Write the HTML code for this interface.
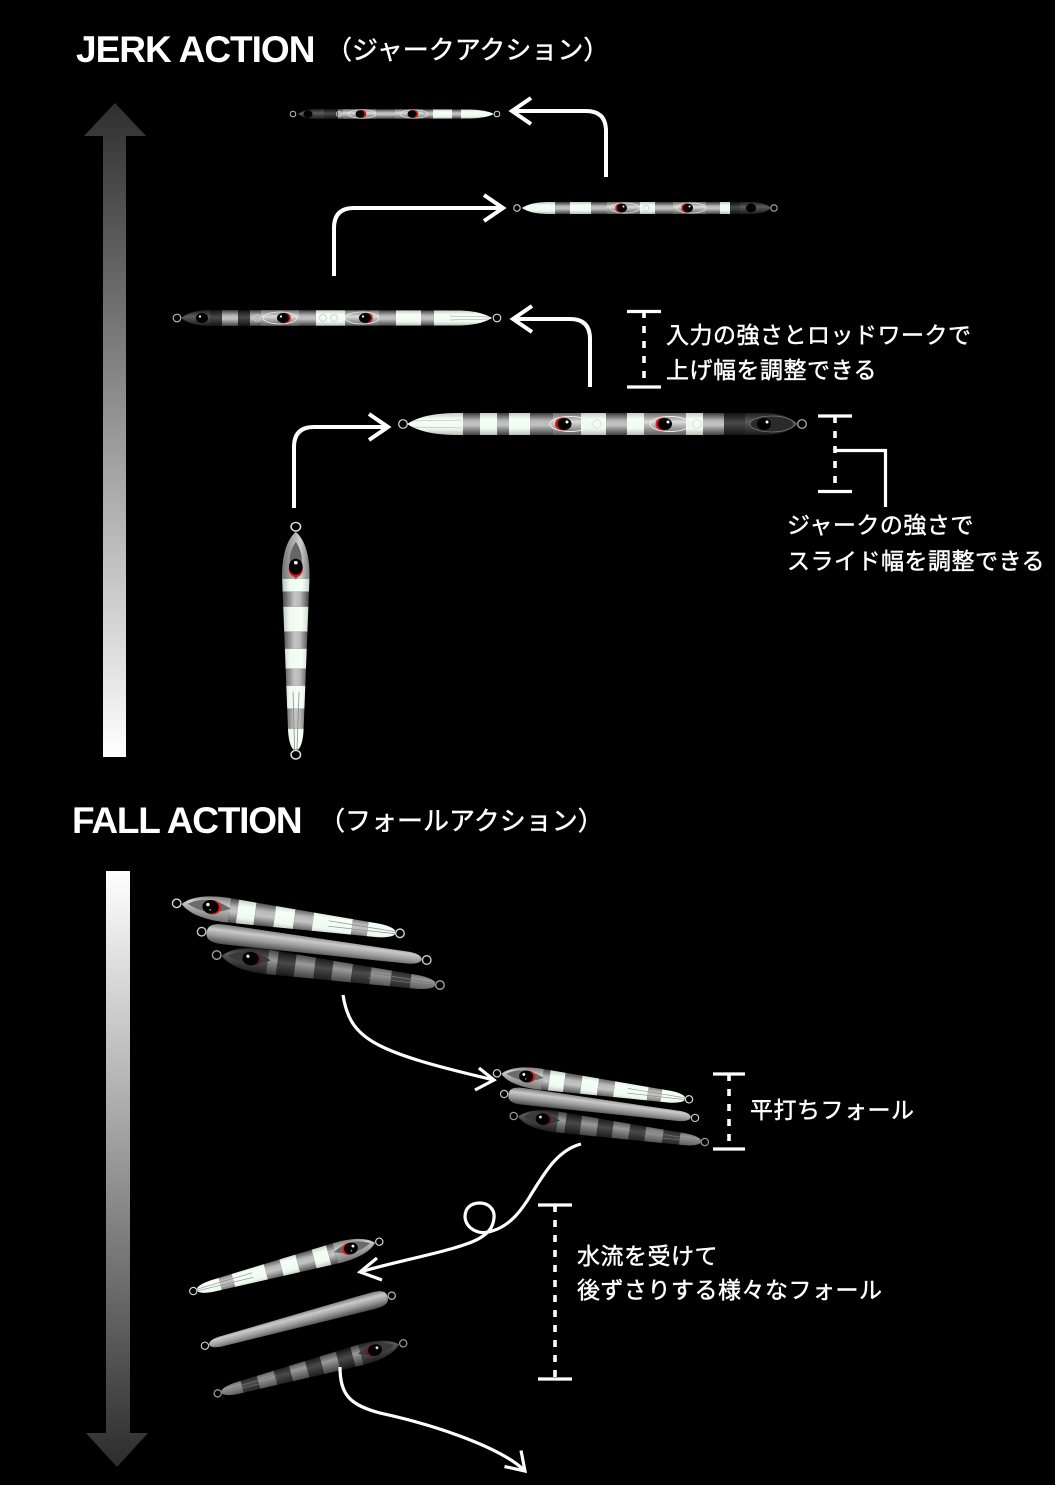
<!DOCTYPE html>
<html><head><meta charset="utf-8">
<style>html,body{margin:0;padding:0;background:#000}svg{display:block}</style>
</head><body>
<svg xmlns="http://www.w3.org/2000/svg" width="1055" height="1485" viewBox="0 0 1055 1485">
<defs>
<linearGradient id="gl" x1="0" y1="0" x2="0" y2="1"><stop offset="0" stop-color="#c2ccc3"/><stop offset=".28" stop-color="#f5fff6"/><stop offset=".72" stop-color="#eefaf0"/><stop offset="1" stop-color="#b4bdb5"/></linearGradient>
<linearGradient id="gy" x1="0" y1="0" x2="0" y2="1"><stop offset="0" stop-color="#3a3a3a"/><stop offset=".35" stop-color="#b8b8b8"/><stop offset=".55" stop-color="#c4c4c4"/><stop offset="1" stop-color="#404040"/></linearGradient>
<linearGradient id="gd" x1="0" y1="0" x2="0" y2="1"><stop offset="0" stop-color="#111"/><stop offset=".45" stop-color="#4a4a4a"/><stop offset="1" stop-color="#141414"/></linearGradient>
<linearGradient id="gm" x1="0" y1="0" x2="0" y2="1"><stop offset="0" stop-color="#3e3e3e"/><stop offset=".4" stop-color="#9a9a9a"/><stop offset="1" stop-color="#363636"/></linearGradient>
<linearGradient id="gh" x1="0" y1="0" x2="0" y2="1"><stop offset="0" stop-color="#7a7a7a"/><stop offset=".35" stop-color="#d0d0d0"/><stop offset="1" stop-color="#707070"/></linearGradient>
<linearGradient id="ghd" x1="0" y1="0" x2="0" y2="1"><stop offset="0" stop-color="#1e1e1e"/><stop offset=".4" stop-color="#5c5c5c"/><stop offset="1" stop-color="#1a1a1a"/></linearGradient>
<linearGradient id="ge" x1="0" y1="0" x2="0" y2="1"><stop offset="0" stop-color="#6a6a6a"/><stop offset=".4" stop-color="#dcdcdc"/><stop offset="1" stop-color="#5a5a5a"/></linearGradient>
<linearGradient id="gs" x1="0" y1="0" x2="0" y2="1"><stop offset="0" stop-color="#777"/><stop offset=".3" stop-color="#cacaca"/><stop offset=".6" stop-color="#9c9c9c"/><stop offset="1" stop-color="#4a4a4a"/></linearGradient>
<linearGradient id="barJ" gradientUnits="userSpaceOnUse" x1="0" y1="103" x2="0" y2="757"><stop offset="0" stop-color="#2f2f2f"/><stop offset="1" stop-color="#ffffff"/></linearGradient>
<linearGradient id="barF" gradientUnits="userSpaceOnUse" x1="0" y1="871" x2="0" y2="1467"><stop offset="0" stop-color="#ffffff"/><stop offset="1" stop-color="#2c2c2c"/></linearGradient>

<clipPath id="cF"><path d="M0,0 C8,-8 22,-12.5 45,-12.5 L200,-7 Q214,-6 218,-2 L218,2 Q214,6 200,7 L45,12.5 C22,12.5 8,8 0,0 Z"/></clipPath>
<clipPath id="cS"><path d="M0,0 C0,-7 5,-10 18,-10 L205,-6 Q217,-5 218,0 Q217,5 205,6 L18,10 C5,10 0,7 0,0 Z"/></clipPath>
<clipPath id="cJ1"><path d="M298,114 C303,110.5 309,109 318,109 L470,109.5 C484,110 490,112 494,114 C490,116 484,118 470,118.5 L318,119 C309,119 303,117.5 298,114 Z"/></clipPath>
<clipPath id="cJ2"><path d="M522,208 C528,204 536,202 550,202 L750,202 C762,202 768,205 771,208 C768,211 762,214 750,214 L550,214 C536,214 528,212 522,208 Z"/></clipPath>
<clipPath id="cJ3"><path d="M181,318 C188,313 196,310 212,310 L460,310.5 C478,311 487,315 492,318 C487,321 478,325 460,325.5 L212,326 C196,326 188,323 181,318 Z"/></clipPath>
<clipPath id="cJ4"><path d="M407,424 C418,417 432,413 460,413 L765,413 C782,413 792,419 798,424 C792,429 782,435 765,435 L460,435 C432,435 418,431 407,424 Z"/></clipPath>

<g id="Lg">
<circle cx="-5" cy="0" r="4.3" fill="none" stroke="#d8d8d8" stroke-width="1.4"/>
<circle cx="223" cy="0" r="4.3" fill="none" stroke="#d8d8d8" stroke-width="1.4"/>
<g clip-path="url(#cF)">
<rect x="0" y="-13" width="49" height="26" fill="url(#gh)"/>
<rect x="49" y="-13" width="8" height="26" fill="url(#gy)"/>
<rect x="57" y="-13" width="18" height="26" fill="url(#gl)"/>
<rect x="75" y="-13" width="20" height="26" fill="url(#gy)"/>
<rect x="95" y="-13" width="20" height="26" fill="url(#gl)"/>
<rect x="115" y="-13" width="19" height="26" fill="url(#gy)"/>
<rect x="134" y="-13" width="40" height="26" fill="url(#gl)"/>
<rect x="174" y="-13" width="16" height="26" fill="url(#gy)"/>
<rect x="190" y="-13" width="30" height="26" fill="url(#gl)"/>
<path d="M150,-3 L220,-1 M150,2.5 L220,1" stroke="#8a8a8a" stroke-width=".7" fill="none"/>
</g>
<path d="M6,-1 Q26,-14 50,-2 Q28,10 6,-1 Z" fill="#6b6b6b"/>
<ellipse cx="31.5" cy="-1" rx="8.8" ry="7.2" fill="#e01a1a"/>
<ellipse cx="29.5" cy="-1" rx="8.3" ry="6.9" fill="#000"/>
<circle cx="26.5" cy="-3" r="1.7" fill="#fff"/>
<circle cx="29.5" cy="2" r=".7" fill="#fff"/>
</g>

<g id="Lv">
<circle cx="-5" cy="0" r="4.3" fill="none" stroke="#e0e0e0" stroke-width="1.4"/>
<circle cx="223" cy="0" r="4.3" fill="none" stroke="#e0e0e0" stroke-width="1.4"/>
<g clip-path="url(#cF)">
<rect x="0" y="-13" width="47" height="26" fill="url(#gh)"/>
<rect x="47" y="-13" width="13" height="26" fill="url(#gl)"/>
<rect x="60" y="-13" width="15" height="26" fill="url(#gy)"/>
<rect x="75" y="-13" width="25" height="26" fill="url(#gl)"/>
<rect x="100" y="-13" width="17" height="26" fill="url(#gy)"/>
<rect x="117" y="-13" width="20" height="26" fill="url(#gl)"/>
<rect x="137" y="-13" width="17" height="26" fill="url(#gy)"/>
<rect x="154" y="-13" width="23" height="26" fill="url(#gl)"/>
<rect x="177" y="-13" width="20" height="26" fill="url(#gy)"/>
<rect x="197" y="-13" width="23" height="26" fill="url(#gl)"/>
<path d="M160,-3 L220,-1 M160,2.5 L220,1" stroke="#8a8a8a" stroke-width=".7" fill="none"/>
</g>
<path d="M10,0 Q28,-11 48,0 Q28,11 10,0 Z" fill="#666"/>
<ellipse cx="37" cy="0" rx="8.5" ry="6.4" fill="#e01a1a"/>
<ellipse cx="35" cy="0" rx="8" ry="6.2" fill="#000"/>
<circle cx="31" cy="0" r="1.7" fill="#fff"/>
</g>

<g id="Ls">
<circle cx="-5" cy="0" r="4.3" fill="none" stroke="#c8c8c8" stroke-width="1.4"/>
<circle cx="223" cy="0" r="4.3" fill="none" stroke="#c8c8c8" stroke-width="1.4"/>
<g clip-path="url(#cS)">
<rect x="0" y="-10" width="220" height="20" fill="url(#gs)"/>
</g>
</g>

<g id="Ld">
<circle cx="-5" cy="0" r="4.3" fill="none" stroke="#a0a0a0" stroke-width="1.4"/>
<circle cx="223" cy="0" r="4.3" fill="none" stroke="#a0a0a0" stroke-width="1.4"/>
<g clip-path="url(#cF)">
<rect x="0" y="-13" width="47" height="26" fill="url(#ghd)"/>
<rect x="47" y="-13" width="10" height="26" fill="url(#gm)"/>
<rect x="57" y="-13" width="18" height="26" fill="url(#gd)"/>
<rect x="75" y="-13" width="20" height="26" fill="url(#gm)"/>
<rect x="95" y="-13" width="18" height="26" fill="url(#gd)"/>
<rect x="113" y="-13" width="20" height="26" fill="url(#gm)"/>
<rect x="133" y="-13" width="19" height="26" fill="url(#gd)"/>
<rect x="152" y="-13" width="21" height="26" fill="url(#gm)"/>
<rect x="173" y="-13" width="20" height="26" fill="url(#gd)"/>
<rect x="193" y="-13" width="27" height="26" fill="url(#gm)"/>
<path d="M150,-3 L220,-1 M150,2.5 L220,1" stroke="#777" stroke-width=".7" fill="none"/>
</g>
<path d="M6,-1 Q26,-14 50,-2 Q28,10 6,-1 Z" fill="#3a3a3a"/>
<ellipse cx="31.5" cy="-1" rx="8.8" ry="7.2" fill="#6a1c1c"/>
<ellipse cx="29.5" cy="-1" rx="8.3" ry="6.9" fill="#000"/>
<circle cx="26.5" cy="-3" r="1.7" fill="#ddd"/>
</g>
</defs>

<rect width="1055" height="1485" fill="#000"/>

<!-- Titles -->
<text x="76" y="62" font-family="Liberation Sans, sans-serif" font-weight="bold" font-size="37" letter-spacing="-1" fill="#fff">JERK ACTION</text>
<text x="326" y="59" font-family="Liberation Sans, Noto Sans CJK JP, sans-serif" font-size="26" fill="#fff" stroke="#fff" stroke-width="0.45">（ジャークアクション）</text>
<text x="72" y="833" font-family="Liberation Sans, sans-serif" font-weight="bold" font-size="37" letter-spacing="-1.2" fill="#fff">FALL ACTION</text>
<text x="319" y="830" font-family="Liberation Sans, Noto Sans CJK JP, sans-serif" font-size="26" fill="#fff" stroke="#fff" stroke-width="0.45">（フォールアクション）</text>

<!-- gradient bars -->
<path d="M115,103 L146,136 L126,136 L126,757 L103,757 L103,136 L84,136 Z" fill="url(#barJ)"/>
<path d="M106,871 L130,871 L130,1433 L148,1433 L117,1467 L86,1433 L106,1433 Z" fill="url(#barF)"/>

<!-- Jerk lure 1 -->
<circle cx="293" cy="114" r="2.8" fill="none" stroke="#bbb" stroke-width="1"/>
<circle cx="497" cy="114" r="2.8" fill="none" stroke="#ddd" stroke-width="1"/>
<g clip-path="url(#cJ1)">
<rect x="298" y="109" width="26" height="10" fill="url(#ghd)"/>
<rect x="324" y="109" width="14" height="10" fill="url(#gd)"/>
<rect x="338" y="109" width="5" height="10" fill="url(#gy)"/>
<rect x="343" y="109" width="33" height="10" fill="url(#ge)"/>
<rect x="376" y="109" width="19" height="10" fill="url(#gy)"/>
<rect x="395" y="109" width="28" height="10" fill="url(#ge)"/>
<rect x="423" y="109" width="10" height="10" fill="url(#gy)"/>
<rect x="433" y="109" width="19" height="10" fill="url(#gl)"/>
<rect x="452" y="109" width="9" height="10" fill="url(#gy)"/>
<rect x="461" y="109" width="33" height="10" fill="url(#gl)"/>
</g>
<ellipse cx="362" cy="114" rx="14" ry="4.2" fill="none" stroke="#eee" stroke-width=".7"/>
<ellipse cx="414" cy="114" rx="14" ry="4.2" fill="none" stroke="#eee" stroke-width=".7"/>
<circle cx="339" cy="114" r="2.6" fill="none" stroke="#ccc" stroke-width=".8"/>
<ellipse cx="308" cy="114" rx="4.5" ry="3.8" fill="#000"/>
<ellipse cx="361.5" cy="114" rx="4.8" ry="4" fill="#d01818"/>
<ellipse cx="360" cy="114" rx="4.5" ry="3.8" fill="#000"/>
<ellipse cx="413.5" cy="114" rx="4.8" ry="4" fill="#d01818"/>
<ellipse cx="412" cy="114" rx="4.5" ry="3.8" fill="#000"/>

<!-- Jerk lure 2 -->
<circle cx="517" cy="208" r="3.2" fill="none" stroke="#ddd" stroke-width="1"/>
<circle cx="774" cy="208" r="3.2" fill="none" stroke="#bbb" stroke-width="1"/>
<g clip-path="url(#cJ2)">
<rect x="522" y="202" width="33" height="12" fill="url(#gl)"/>
<rect x="555" y="202" width="15" height="12" fill="url(#gy)"/>
<rect x="570" y="202" width="21" height="12" fill="url(#gl)"/>
<rect x="591" y="202" width="16" height="12" fill="url(#gy)"/>
<rect x="607" y="202" width="33" height="12" fill="url(#ge)"/>
<rect x="640" y="202" width="15" height="12" fill="url(#gl)"/>
<rect x="655" y="202" width="18" height="12" fill="url(#gy)"/>
<rect x="673" y="202" width="33" height="12" fill="url(#ge)"/>
<rect x="706" y="202" width="14" height="12" fill="url(#gy)"/>
<rect x="720" y="202" width="10" height="12" fill="url(#gl)"/>
<rect x="730" y="202" width="10" height="12" fill="url(#gd)"/>
<rect x="740" y="202" width="31" height="12" fill="url(#ghd)"/>
</g>
<ellipse cx="625" cy="208" rx="15" ry="5" fill="none" stroke="#eee" stroke-width=".7"/>
<ellipse cx="691" cy="208" rx="15" ry="5" fill="none" stroke="#eee" stroke-width=".7"/>
<circle cx="646" cy="208" r="3" fill="none" stroke="#ccc" stroke-width=".8"/>
<ellipse cx="620.5" cy="208" rx="5.3" ry="4.7" fill="#d01818"/>
<ellipse cx="622" cy="208" rx="5" ry="4.5" fill="#000"/>
<ellipse cx="686.5" cy="208" rx="5.3" ry="4.7" fill="#d01818"/>
<ellipse cx="688" cy="208" rx="5" ry="4.5" fill="#000"/>
<ellipse cx="751" cy="208" rx="5" ry="4.5" fill="#000"/>
<circle cx="623.5" cy="206.5" r="1" fill="#fff"/>
<circle cx="689.5" cy="206.5" r="1" fill="#fff"/>

<!-- Jerk lure 3 -->
<circle cx="177" cy="318" r="3.8" fill="none" stroke="#bbb" stroke-width="1.1"/>
<circle cx="497" cy="318" r="3.8" fill="none" stroke="#ddd" stroke-width="1.1"/>
<g clip-path="url(#cJ3)">
<rect x="181" y="310" width="29" height="16" fill="url(#ghd)"/>
<rect x="210" y="310" width="12" height="16" fill="url(#gd)"/>
<rect x="222" y="310" width="16" height="16" fill="url(#gy)"/>
<rect x="238" y="310" width="12" height="16" fill="url(#gd)"/>
<rect x="250" y="310" width="11" height="16" fill="url(#gy)"/>
<rect x="261" y="310" width="38" height="16" fill="url(#ge)"/>
<rect x="299" y="310" width="17" height="16" fill="url(#gy)"/>
<rect x="316" y="310" width="29" height="16" fill="url(#gl)"/>
<rect x="345" y="310" width="34" height="16" fill="url(#ge)"/>
<rect x="379" y="310" width="17" height="16" fill="url(#gy)"/>
<rect x="396" y="310" width="25" height="16" fill="url(#gl)"/>
<rect x="421" y="310" width="13" height="16" fill="url(#gy)"/>
<rect x="434" y="310" width="58" height="16" fill="url(#gl)"/>
<path d="M450,316 L490,317 M450,320 L490,319" stroke="#999" stroke-width=".6" fill="none"/>
</g>
<ellipse cx="280" cy="318" rx="17" ry="6" fill="none" stroke="#eee" stroke-width=".8"/>
<ellipse cx="362" cy="318" rx="17" ry="6" fill="none" stroke="#eee" stroke-width=".8"/>
<circle cx="257" cy="318" r="3.4" fill="none" stroke="#ccc" stroke-width=".9"/>
<circle cx="323" cy="318" r="3.4" fill="none" stroke="#ccc" stroke-width=".9"/>
<circle cx="334" cy="318" r="3.4" fill="none" stroke="#ccc" stroke-width=".9"/>
<ellipse cx="202" cy="318" rx="6" ry="5" fill="#000"/>
<ellipse cx="284.5" cy="318" rx="6.3" ry="5.3" fill="#d01818"/>
<ellipse cx="283" cy="318" rx="6" ry="5" fill="#000"/>
<ellipse cx="366.5" cy="318" rx="6.3" ry="5.3" fill="#d01818"/>
<ellipse cx="365" cy="318" rx="6" ry="5" fill="#000"/>
<circle cx="200" cy="316.5" r="1.1" fill="#fff"/>
<circle cx="281" cy="316.5" r="1.1" fill="#fff"/>
<circle cx="363" cy="316.5" r="1.1" fill="#fff"/>

<!-- Jerk lure 4 -->
<circle cx="403" cy="424" r="4.3" fill="none" stroke="#ddd" stroke-width="1.2"/>
<circle cx="802" cy="424" r="4.3" fill="none" stroke="#bbb" stroke-width="1.2"/>
<g clip-path="url(#cJ4)">
<rect x="407" y="413" width="56" height="22" fill="url(#gl)"/>
<rect x="463" y="413" width="17" height="22" fill="url(#gy)"/>
<rect x="480" y="413" width="17" height="22" fill="url(#gl)"/>
<rect x="497" y="413" width="12" height="22" fill="url(#gy)"/>
<rect x="509" y="413" width="21" height="22" fill="url(#gl)"/>
<rect x="530" y="413" width="23" height="22" fill="url(#gy)"/>
<rect x="553" y="413" width="28" height="22" fill="url(#ge)"/>
<rect x="581" y="413" width="25" height="22" fill="url(#gl)"/>
<rect x="606" y="413" width="21" height="22" fill="url(#gy)"/>
<rect x="627" y="413" width="17" height="22" fill="url(#gl)"/>
<rect x="644" y="413" width="42" height="22" fill="url(#ge)"/>
<rect x="686" y="413" width="17" height="22" fill="url(#gl)"/>
<rect x="703" y="413" width="21" height="22" fill="url(#gy)"/>
<rect x="724" y="413" width="21" height="22" fill="url(#gd)"/>
<rect x="745" y="413" width="53" height="22" fill="url(#ghd)"/>
<path d="M410,421 L462,420 M410,427 L462,428" stroke="#aaa" stroke-width=".6" fill="none"/>
</g>
<ellipse cx="570" cy="424" rx="20" ry="7.5" fill="none" stroke="#f0f0f0" stroke-width="1"/>
<ellipse cx="670" cy="424" rx="20" ry="7.5" fill="none" stroke="#f0f0f0" stroke-width="1"/>
<ellipse cx="772" cy="424" rx="22" ry="8" fill="#2a2a2a" stroke="#777" stroke-width=".8"/>
<circle cx="597" cy="424" r="4.2" fill="none" stroke="#ddd" stroke-width="1"/>
<circle cx="697" cy="424" r="4.2" fill="none" stroke="#ddd" stroke-width="1"/>
<ellipse cx="562.5" cy="424" rx="7.5" ry="6.5" fill="#d41c1c"/>
<ellipse cx="564.5" cy="424" rx="7" ry="6" fill="#000"/>
<ellipse cx="663" cy="424" rx="7.5" ry="6.5" fill="#d41c1c"/>
<ellipse cx="665" cy="424" rx="7" ry="6" fill="#000"/>
<ellipse cx="764" cy="424" rx="7" ry="6" fill="#000"/>
<circle cx="567" cy="422" r="1.5" fill="#fff"/>
<circle cx="668" cy="422" r="1.5" fill="#fff"/>
<circle cx="767" cy="422" r="1.5" fill="#fff"/>

<!-- vertical lure -->
<use href="#Lv" transform="translate(295.8,531.7) rotate(90) scale(1,1.1)"/>

<!-- jerk arrows -->
<g fill="none" stroke="#fff" stroke-width="4" stroke-linejoin="miter">
<path d="M294,508 V447 Q294,427 314,427 H388"/>
<path d="M369,414 L388,427 L369,440"/>
<path d="M606,177 V131 Q606,111 586,111 H512"/>
<path d="M531,98 L512,111 L531,124"/>
<path d="M334,276 V228 Q334,208 354,208 H503"/>
<path d="M484,195 L503,208 L484,221"/>
<path d="M590,387 V339 Q590,319 570,319 H513"/>
<path d="M532,306 L513,319 L532,332"/>
</g>

<!-- brackets -->
<g fill="none" stroke="#fff" stroke-width="3.2">
<path d="M627,311.5 H661 M627,387 H661"/>
<path d="M818,416 H852 M818,491.5 H852"/>
<path d="M835,450.5 H885.5 V507"/>
<path d="M713,1074 H745 M713,1149 H745"/>
<path d="M538,1205 H572 M538,1379 H572"/>
</g>
<g fill="none" stroke="#fff" stroke-width="3.6" stroke-dasharray="7 8">
<path d="M644,311 V387"/>
<path d="M835,416 V492"/>
<path d="M729,1074 V1149"/>
<path d="M555,1205 V1379"/>
</g>

<!-- labels -->
<g font-family="Liberation Sans, Noto Sans CJK JP, sans-serif" font-size="23" fill="#fff" stroke="#fff" stroke-width="0.45" letter-spacing="0.5">
<text x="666" y="343">入力の強さとロッドワークで</text>
<text x="666" y="378">上げ幅を調整できる</text>
<text x="787" y="533">ジャークの強さで</text>
<text x="787" y="569">スライド幅を調整できる</text>
<text x="750" y="1118">平打ちフォール</text>
<text x="577" y="1264">水流を受けて</text>
<text x="577" y="1298">後ずさりする様々なフォール</text>
</g>

<!-- fall lures top group -->
<use href="#Lg" transform="translate(181.6,904) rotate(7.65) scale(0.988)"/>
<use href="#Ls" transform="translate(206.6,932.3) rotate(7.17) scale(0.995)"/>
<use href="#Ld" transform="translate(221.6,955.7) rotate(7.65) scale(0.988)"/>

<!-- mid group -->
<use href="#Lg" transform="translate(501.2,1073.9) rotate(7.7) scale(0.85)"/>
<use href="#Ls" transform="translate(508.3,1094.5) rotate(7.16) scale(0.844)"/>
<use href="#Ld" transform="translate(517.9,1116.6) rotate(7.75) scale(0.846)"/>

<!-- bottom group (mirrored) -->
<use href="#Lg" transform="translate(375.2,1242.8) scale(-0.844,0.844) rotate(14.85)"/>
<use href="#Ls" transform="translate(387.6,1296.8) scale(-0.848,0.848) rotate(15)"/>
<use href="#Ld" transform="translate(399.2,1344.4) scale(-0.843,0.843) rotate(15.1)"/>

<!-- fall curves -->
<g fill="none" stroke="#fff" stroke-width="3.2" stroke-linejoin="miter">
<path d="M343,995 C350,1040 375,1052 494,1080"/>
<path d="M479,1068 L494,1080 L475,1090"/>
<path d="M581,1144 C558,1150 545,1172 532,1193 C522,1210 510,1226 492,1231 C478,1236 466,1228 465,1217 C465,1207 472,1203 480,1203 C489,1203 495,1210 494,1218 C493,1228 488,1233 480,1238 C460,1250 400,1260 360,1272"/>
<path d="M377,1258 L360,1272 L382,1280"/>
<path d="M340,1367 C340,1395 350,1405 380,1413 C440,1426 503,1449 525,1471"/>
<path d="M504.5,1466.5 L525,1471 L521,1450.5"/>
</g>
</svg>
</body></html>
